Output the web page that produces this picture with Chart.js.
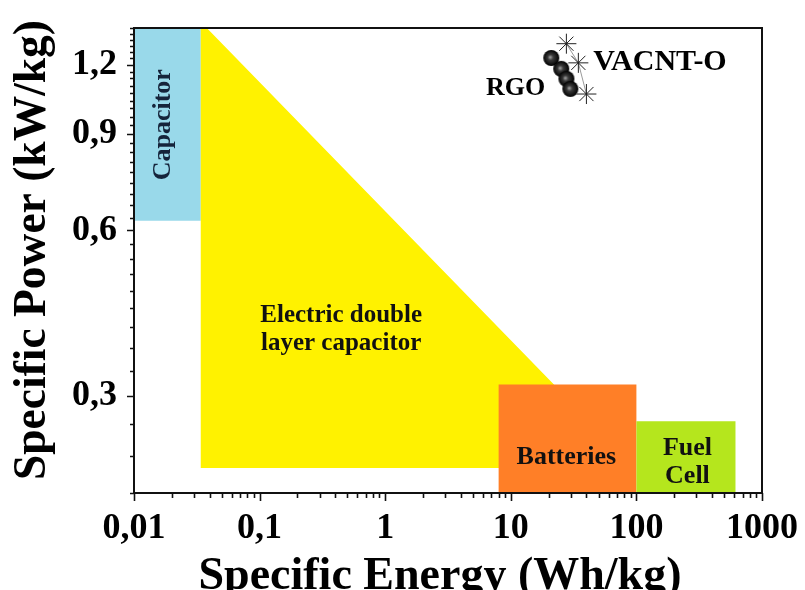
<!DOCTYPE html>
<html>
<head>
<meta charset="utf-8">
<title>Ragone plot</title>
<script src="https://cdn.jsdelivr.net/npm/chart.js@4/dist/chart.umd.min.js"></script>
<style>
  html, body { margin: 0; padding: 0; background: #fff; }
  #wrap { width: 805px; height: 590px; }
</style>
</head>
<body>
<div id="wrap"><canvas id="ragone" width="805" height="590"></canvas></div>
<script>
// Labelled axis ticks
const xTickValues = [0.01, 0.1, 1, 10, 100, 1000];
const xTickLabels = ['0,01', '0,1', '1', '10', '100', '1000'];
const yTickValues = [0.3, 0.6, 0.9, 1.2];
const yTickLabels = ['0,3', '0,6', '0,9', '1,2'];

// Device regions, corner points as [specific energy (Wh/kg), specific power (kW/kg)]
const capacitorRegion = [[0.01, 0.625], [0.034, 0.625], [0.034, 1.4], [0.01, 1.4]];
const edlcRegion = [[0.034, 0.222], [0.034, 1.4], [0.038, 1.4], [30, 0.293], [30, 0.222]];
const batteryRegion = [[8, 0.2], [8, 0.315], [100, 0.315], [100, 0.2]];
const fuelCellRegion = [[100, 0.2], [100, 0.27], [615, 0.27], [615, 0.2]];

// Electrode measurements
const rgoEnergy = [21.0, 25.2, 27.7, 29.8];
const rgoPower = [1.235, 1.18, 1.132, 1.085];
const vacntEnergy = [27.7, 34.5, 40.0];
const vacntPower = [1.311, 1.21, 1.062];

const FONT = 'Liberation Serif, Times New Roman, serif';

// Text placed in data coordinates
const regionLabels = [
  { lines: ['Capacitor'], at: [0.0172, 0.934], rotate: true, size: 26, color: '#15243b' },
  { lines: ['Electric double', 'layer capacitor'], at: [0.446, 0.396], size: 25, color: '#111' },
  { lines: ['Batteries'], at: [27.7, 0.2325], size: 26, color: '#111' },
  { lines: ['Fuel', 'Cell'], at: [255, 0.2275], size: 26, color: '#111' }
];
const seriesLabels = [
  { text: 'VACNT-O', at: [45.4, 1.215], align: 'left', size: 30 },
  { text: 'RGO', at: [18.8, 1.088], align: 'right', size: 26 }
];

function toPoints(pairs) {
  return pairs.map(([x, y]) => ({ x, y }));
}

function regionDataset(label, pairs, color, order) {
  return {
    label,
    data: toPoints(pairs),
    showLine: true,
    fill: 'shape',
    backgroundColor: color,
    borderColor: color,
    borderWidth: 0,
    pointRadius: 0,
    pointHoverRadius: 0,
    order
  };
}

// Shaded black sphere used as the RGO marker
function sphereMarker(r) {
  const c = document.createElement('canvas');
  c.width = c.height = 2 * r + 2;
  const g = c.getContext('2d');
  const cx = r + 1, cy = r + 1;
  const grad = g.createRadialGradient(cx - r * 0.15, cy - r * 0.1, 0, cx, cy, r);
  grad.addColorStop(0, '#a8a8a8');
  grad.addColorStop(0.35, '#3a3a3a');
  grad.addColorStop(1, '#000');
  g.fillStyle = grad;
  g.beginPath();
  g.arc(cx, cy, r, 0, Math.PI * 2);
  g.fill();
  return c;
}

// Fixed axis box sizes, no extra label overhang
function fixX(s) { s.height = 97; s.paddingLeft = 0; s.paddingRight = 0; s.paddingTop = 0; s.paddingBottom = 0; }
function fixY(s) { s.width = 134; s.paddingLeft = 0; s.paddingRight = 0; s.paddingTop = 0; s.paddingBottom = 0; }

// Frame, tick marks, in-plot text and axis titles
const decorations = {
  id: 'decorations',
  afterDatasetsDraw(chart) {
    const { ctx, chartArea: a, scales: { x, y } } = chart;
    ctx.save();
    ctx.strokeStyle = '#111';
    ctx.lineWidth = 2;
    ctx.strokeRect(a.left, a.top, a.right - a.left, a.bottom - a.top);

    // x ticks: decades plus 2..9 multiples
    ctx.lineWidth = 1.6;
    ctx.beginPath();
    for (let d = 0; d < xTickValues.length; d++) {
      const dec = xTickValues[d];
      const px = Math.round(x.getPixelForValue(dec)) + 0.5;
      ctx.moveTo(px, a.bottom);
      ctx.lineTo(px, a.bottom + 8);
      if (d < xTickValues.length - 1) {
        for (let k = 2; k <= 9; k++) {
          const mx = Math.round(x.getPixelForValue(dec * k)) + 0.5;
          ctx.moveTo(mx, a.bottom);
          ctx.lineTo(mx, a.bottom + 5);
        }
      }
    }
    // y ticks: every 1/30 kW/kg, major every 0.3
    for (let k = 6; k <= 42; k++) {
      const py = Math.round(y.getPixelForValue(k / 30)) + 0.5;
      const len = k % 9 === 0 ? 7 : 4;
      ctx.moveTo(a.left, py);
      ctx.lineTo(a.left - len, py);
    }
    ctx.stroke();

    ctx.textAlign = 'center';
    ctx.textBaseline = 'middle';
    regionLabels.forEach(lab => {
      const px = x.getPixelForValue(lab.at[0]);
      const py = y.getPixelForValue(lab.at[1]);
      ctx.font = 'bold ' + lab.size + 'px ' + FONT;
      ctx.fillStyle = lab.color;
      ctx.save();
      ctx.translate(px, py);
      if (lab.rotate) ctx.rotate(-Math.PI / 2);
      const step = 28;
      const off = -(lab.lines.length - 1) * step / 2;
      lab.lines.forEach((t, i) => ctx.fillText(t, 0, off + i * step));
      ctx.restore();
    });

    seriesLabels.forEach(lab => {
      ctx.font = 'bold ' + lab.size + 'px ' + FONT;
      ctx.fillStyle = '#000';
      ctx.textAlign = lab.align;
      ctx.fillText(lab.text, x.getPixelForValue(lab.at[0]), y.getPixelForValue(lab.at[1]));
    });
    ctx.restore();
  },
  afterDraw(chart) {
    const { ctx } = chart;
    ctx.save();
    ctx.fillStyle = '#000';
    ctx.textAlign = 'center';
    ctx.textBaseline = 'alphabetic';
    ctx.font = 'bold 46px ' + FONT;
    ctx.fillText('Specific Energy (Wh/kg)', 440, 589);
    ctx.font = 'bold 45.5px ' + FONT;
    ctx.translate(45, 250);
    ctx.rotate(-Math.PI / 2);
    ctx.fillText('Specific Power (kW/kg)', 0, 0);
    ctx.restore();
  }
};

new Chart(document.getElementById('ragone'), {
  type: 'scatter',
  data: {
    datasets: [
      regionDataset('Capacitor', capacitorRegion, '#99D9EA', 6),
      regionDataset('Electric double layer capacitor', edlcRegion, '#FFF200', 5),
      regionDataset('Batteries', batteryRegion, '#FF7F27', 4),
      regionDataset('Fuel Cell', fuelCellRegion, '#B5E61D', 3),
      {
        label: 'RGO',
        data: rgoEnergy.map((e, i) => ({ x: e, y: rgoPower[i] })),
        showLine: true,
        borderColor: '#8a8a8a',
        borderWidth: 1,
        pointStyle: sphereMarker(8),
        pointRadius: 8,
        order: 2
      },
      {
        label: 'VACNT-O',
        data: vacntEnergy.map((e, i) => ({ x: e, y: vacntPower[i] })),
        showLine: true,
        borderColor: '#9a9a9a',
        borderWidth: 1,
        pointStyle: 'star',
        pointRadius: 10,
        pointBorderColor: '#222',
        pointBorderWidth: 1,
        pointBackgroundColor: 'rgba(0,0,0,0)',
        order: 1
      }
    ]
  },
  options: {
    responsive: false,
    animation: false,
    devicePixelRatio: 1,
    layout: { padding: { top: 28, right: 43, left: 0, bottom: 0 } },
    plugins: { legend: { display: false }, tooltip: { enabled: false } },
    events: [],
    scales: {
      x: {
        type: 'logarithmic',
        position: 'bottom',
        min: 0.01,
        max: 1000,
        bounds: 'data',
        grid: { display: false, drawTicks: false },
        border: { display: false },
        afterBuildTicks: s => { s.ticks = xTickValues.map(v => ({ value: v })); },
        afterFit: fixX,
        ticks: {
          autoSkip: false,
          maxRotation: 0,
          padding: 14,
          color: '#000',
          font: { family: FONT, size: 36, weight: 'bold' },
          callback: (v, i) => xTickLabels[i]
        }
      },
      y: {
        type: 'logarithmic',
        position: 'left',
        min: 0.2,
        max: 1.4,
        bounds: 'data',
        grid: { display: false, drawTicks: false },
        border: { display: false },
        afterBuildTicks: s => { s.ticks = yTickValues.map(v => ({ value: v })); },
        afterFit: fixY,
        ticks: {
          autoSkip: false,
          padding: 17,
          color: '#000',
          font: { family: FONT, size: 36, weight: 'bold' },
          callback: (v, i) => yTickLabels[i]
        }
      }
    }
  },
  plugins: [decorations]
});
</script>
</body>
</html>
